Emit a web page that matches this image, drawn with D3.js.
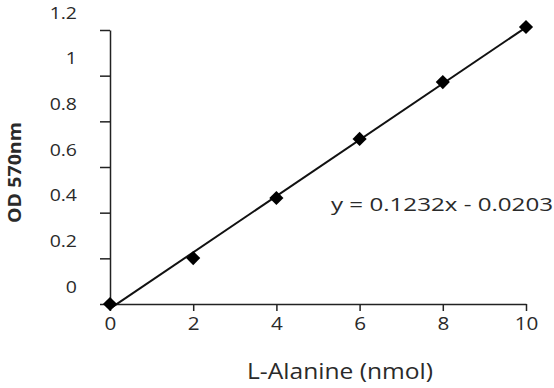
<!DOCTYPE html>
<html>
<head>
<meta charset="utf-8">
<script src="https://cdn.jsdelivr.net/npm/d3@7"></script>
<style>
  html, body { margin: 0; padding: 0; background: #fff; }
  svg { display: block; }
  text { font-family: "Open Sans", "Liberation Sans", sans-serif; fill: #2a2a2a; }
</style>
</head>
<body>
<svg id="chart" width="554" height="388"></svg>
<script>
// ---- data ----
const xValues = [0, 2, 4, 6, 8, 10];
const odValues = [0.0, 0.201, 0.464, 0.723, 0.972, 1.213];
const xTicks = [0, 2, 4, 6, 8, 10];
const yTicks = [0, 0.2, 0.4, 0.6, 0.8, 1, 1.2];
const slope = 0.1232;
const intercept = -0.0203;
const equationLabel = "y = 0.1232x - 0.0203";
const xTitle = "L-Alanine (nmol)";
const yTitle = "OD 570nm";

const svg = d3.select("#chart");
const x = d3.scaleLinear().domain([0, 10]).range([110, 526]);
const y = d3.scaleLinear().domain([0, 1.2]).range([304, 30]);

// y axis
const yAxis = svg.append("g").attr("transform", `translate(${x(0)},0)`)
  .call(d3.axisLeft(y).tickValues(yTicks).tickSize(10).tickSizeOuter(0).tickFormat(d3.format("")));
yAxis.select(".domain").attr("stroke", "#222").attr("stroke-width", 1.5);
yAxis.selectAll(".tick line").attr("stroke", "#222").attr("stroke-width", 1.5);
yAxis.selectAll(".tick text")
  .attr("x", 0).attr("dy", 0)
  .attr("transform", "translate(-33,-12) scale(1.18,1)")
  .style("font-size", "16.5px").attr("fill", "#2a2a2a");

// x axis
const xAxis = svg.append("g").attr("transform", `translate(0,${y(0)})`)
  .call(d3.axisBottom(x).tickValues(xTicks).tickSize(7).tickSizeOuter(0).tickFormat(d3.format("")));
xAxis.select(".domain").attr("stroke", "#222").attr("stroke-width", 1.5);
xAxis.selectAll(".tick line").attr("stroke", "#222").attr("stroke-width", 1.5);
xAxis.selectAll(".tick text")
  .attr("y", 0).attr("dy", 0)
  .attr("transform", "translate(0,26) scale(1.15,1)")
  .style("font-size", "18px").attr("fill", "#2a2a2a");

// trendline
svg.append("line")
  .attr("x1", x(0)).attr("y1", y(intercept))
  .attr("x2", x(10)).attr("y2", y(slope * 10 + intercept))
  .attr("stroke", "#111").attr("stroke-width", 2);

// markers
const diamond = d3.symbol().type(d3.symbolSquare).size(100);
svg.append("g").selectAll("path")
  .data(xValues.map((v, i) => [v, odValues[i]]))
  .join("path")
  .attr("d", diamond)
  .attr("transform", d => `translate(${x(d[0])},${y(d[1])}) rotate(45)`)
  .attr("fill", "#000");

// equation
svg.append("text")
  .attr("x", 331).attr("y", 211)
  .attr("textLength", 222).attr("lengthAdjust", "spacingAndGlyphs")
  .style("font-size", "18.5px")
  .text(equationLabel);

// x title
svg.append("text")
  .attr("x", 247).attr("y", 379)
  .attr("textLength", 186).attr("lengthAdjust", "spacingAndGlyphs")
  .style("font-size", "22px")
  .text(xTitle);

// y title
svg.append("text")
  .attr("transform", "translate(21,223) rotate(-90)")
  .attr("textLength", 101).attr("lengthAdjust", "spacingAndGlyphs")
  .style("font-size", "18px").style("font-weight", "bold")
  .text(yTitle);
</script>
</body>
</html>
